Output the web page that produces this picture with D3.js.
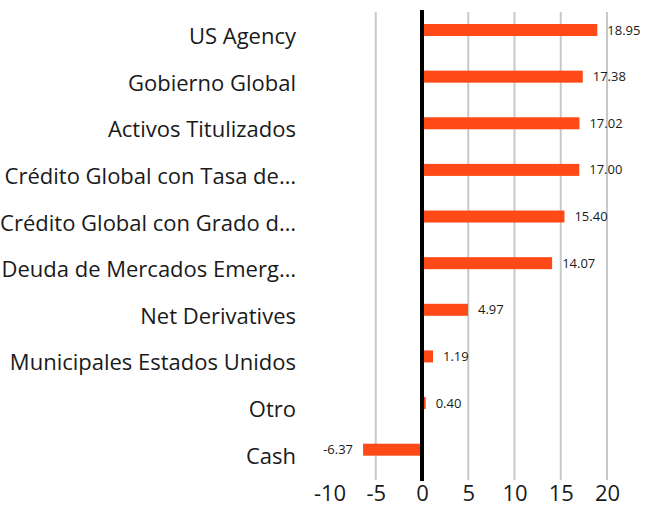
<!DOCTYPE html>
<html>
<head>
<meta charset="utf-8">
<script src="https://cdn.jsdelivr.net/npm/d3@7"></script>
<style>
  body { margin: 0; background: #fff; }
  text { font-family: "Open Sans", sans-serif; fill: #1a1a1a; }
</style>
</head>
<body>
<svg id="chart" width="645" height="511"></svg>
<script>
// chart data
var categories = [
  "US Agency",
  "Gobierno Global",
  "Activos Titulizados",
  "Crédito Global con Tasa de…",
  "Crédito Global con Grado d…",
  "Deuda de Mercados Emerg…",
  "Net Derivatives",
  "Municipales Estados Unidos",
  "Otro",
  "Cash"
];
var values = [18.95, 17.38, 17.02, 17.00, 15.40, 14.07, 4.97, 1.19, 0.40, -6.37];
var tickValues = [-10, -5, 0, 5, 10, 15, 20];
var gridValues = [-5, 5, 10, 15, 20];

var svg = d3.select("#chart");

// scales
var xScale = d3.scaleLinear()
  .domain([-10, 20])
  .range([329.5, 607]);

var yScale = d3.scaleBand()
  .domain(categories)
  .range([13.7, 480]);

var barH = 12;
var barShift = -7;

// gridlines
svg.append("g")
  .selectAll("line")
  .data(gridValues)
  .enter()
  .append("line")
  .attr("x1", d => xScale(d))
  .attr("x2", d => xScale(d))
  .attr("y1", 12)
  .attr("y2", 480)
  .attr("stroke", "#c8c8c8")
  .attr("stroke-width", 2);

// bars
svg.append("g")
  .selectAll("rect")
  .data(values)
  .enter()
  .append("rect")
  .attr("x", d => xScale(Math.min(0, d)))
  .attr("width", d => Math.abs(xScale(d) - xScale(0)))
  .attr("y", (d, i) => yScale(categories[i]) + yScale.bandwidth() / 2 + barShift - barH / 2)
  .attr("height", barH)
  .attr("fill", "#ff4a17");

// zero line
svg.append("line")
  .attr("x1", xScale(0))
  .attr("x2", xScale(0))
  .attr("y1", 10)
  .attr("y2", 481)
  .attr("stroke", "#000")
  .attr("stroke-width", 4);

// value labels
svg.append("g")
  .selectAll("text")
  .data(values)
  .enter()
  .append("text")
  .attr("x", d => d < 0 ? xScale(d) - 10 : xScale(d) + 10)
  .attr("y", (d, i) => yScale(categories[i]) + yScale.bandwidth() / 2 + barShift)
  .attr("dy", "0.35em")
  .attr("text-anchor", d => d < 0 ? "end" : "start")
  .style("font-size", "13px")
  .text(d => d.toFixed(2));

// category labels
var leftAxis = d3.axisLeft(yScale).tickSize(0).tickPadding(0);
var yAxis = svg.append("g")
  .attr("transform", "translate(296,0)")
  .call(leftAxis);
yAxis.select(".domain").remove();
yAxis.selectAll("text")
  .style("font-size", "22px")
  .style("font-family", "'Open Sans', sans-serif")
  .attr("fill", "#1a1a1a");

// x axis labels
var bottomAxis = d3.axisBottom(xScale)
  .tickValues(tickValues)
  .tickFormat(d => String(d))
  .tickSize(0)
  .tickPadding(0);
var xAxis = svg.append("g")
  .attr("transform", "translate(0,485)")
  .call(bottomAxis);
xAxis.select(".domain").remove();
xAxis.selectAll("text")
  .style("font-size", "22px")
  .style("font-family", "'Open Sans', sans-serif")
  .attr("fill", "#1a1a1a");
</script>
</body>
</html>
